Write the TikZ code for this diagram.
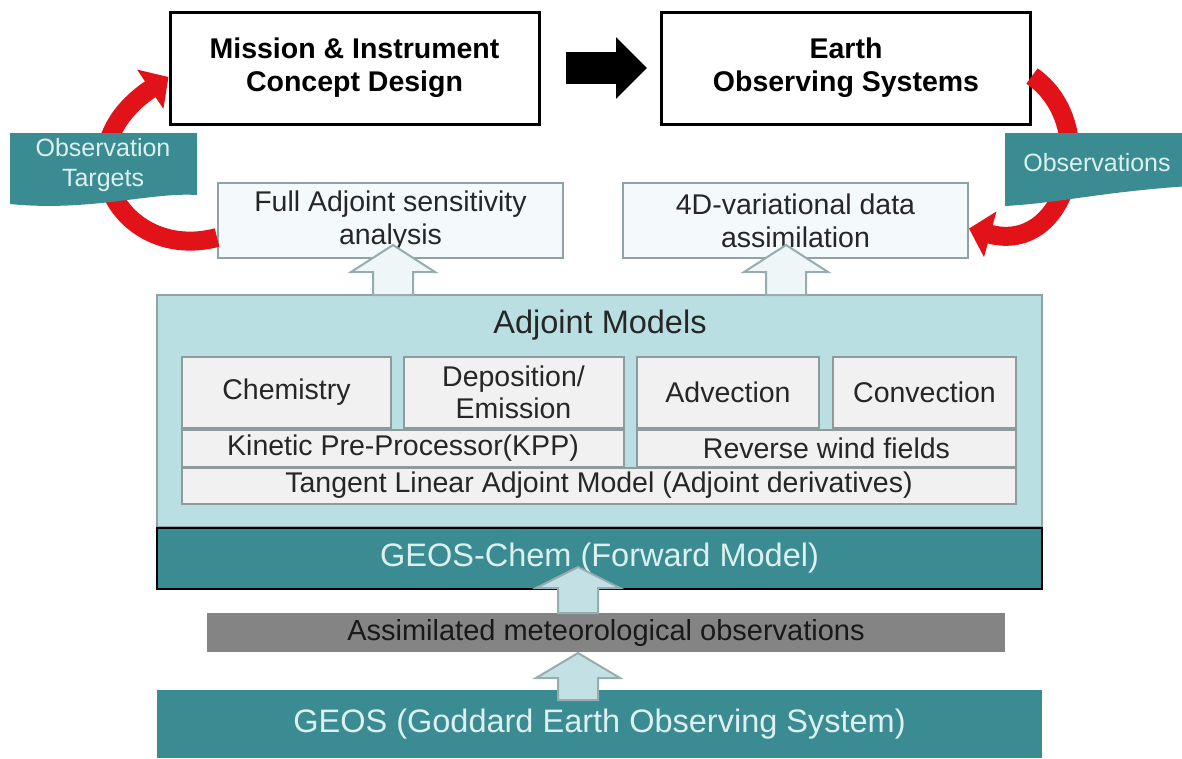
\documentclass[tikz,border=0pt]{standalone}
\usepackage{fontspec}
\setmainfont{Liberation Sans}
\usetikzlibrary{arrows.meta}

\definecolor{geosteal}{RGB}{58,140,146}
\definecolor{adjfill}{RGB}{185,223,226}
\definecolor{modfill}{RGB}{241,241,241}
\definecolor{modline}{RGB}{141,155,156}
\definecolor{resfill}{RGB}{244,249,251}
\definecolor{resline}{RGB}{142,163,166}
\definecolor{bandred}{RGB}{225,18,24}
\definecolor{paletext}{RGB}{220,240,240}
\definecolor{assimgray}{RGB}{132,132,132}
\definecolor{arrowlight}{RGB}{238,246,247}
\definecolor{arrowblue}{RGB}{195,225,228}
\definecolor{arrowline}{RGB}{150,172,175}

\tikzset{
  topbox/.style={draw=black, line width=3pt, fill=white, minimum width=369pt,
    minimum height=112pt, align=center, inner sep=0pt,
    font=\bfseries\fontsize{28.5}{33}\selectfont},
  resbox/.style={draw=resline, line width=2pt, fill=resfill, minimum width=345pt,
    minimum height=75pt, align=center, inner sep=0pt, text=black!85,
    font=\fontsize{28.5}{33}\selectfont},
  adjbox/.style={draw=resline, line width=2pt, fill=adjfill, minimum width=885pt,
    minimum height=232pt},
  modbox/.style={draw=modline, line width=2pt, fill=modfill, align=center,
    inner sep=0pt, text=black!85, font=\fontsize{28.5}{32}\selectfont},
  tealbar/.style={fill=geosteal, minimum width=885pt, inner sep=0pt,
    text=paletext, font=\fontsize{32.5}{36}\selectfont},
  banner/.style={fill=geosteal},
  bannertext/.style={align=center, text=paletext, inner sep=0pt,
    font=\fontsize{25}{30}\selectfont},
  redband/.style={draw=bandred, line width=19pt,
    -{Triangle[length=22pt,width=46pt]}},
  bigarrow/.style={draw=black, line width=32pt,
    -{Triangle[length=31pt,width=60pt]}},
  toparrow/.style={draw=arrowline, line width=2pt, fill=arrowlight},
  lowarrow/.style={draw=arrowline, line width=2pt, fill=arrowblue}
}

% block arrow pointing up: style, x, tip y, head y, foot y
\newcommand{\blockup}[5]{%
  \draw[#1] (#2-20,#5) -- (#2-20,#4) -- (#2-42,#4) -- (#2,#3)
    -- (#2+42,#4) -- (#2+20,#4) -- (#2+20,#5) -- cycle;}

\begin{document}
\begin{tikzpicture}[x=1pt,y=-1pt]
  \useasboundingbox (0,0) rectangle (1182,758);

  % design loop
  \node[topbox] (mission) at (354.5,68) {Mission \& Instrument\\Concept Design};
  \node[topbox] (earth) at (846,68) {Earth\\Observing Systems};
  \draw[bigarrow] ([xshift=25pt]mission.east) -- ([xshift=-13pt]earth.west);

  \node[resbox] (fa) at (390.5,220.5) {Full Adjoint sensitivity\\analysis};
  \node[resbox] (fourd) at (795.5,220.5) {4D-variational data\\assimilation};

  \draw[redband] ([yshift=-17pt]fa.west) .. controls +(-94,25) and +(-112,75)
    .. ([yshift=-9pt]mission.west);
  \draw[redband] ([yshift=-8pt]earth.east) .. controls +(70,49) and +(99,27)
    .. ([yshift=-8pt]fourd.east);

  \fill[banner] (10,133) -- (197,133) -- (197,195)
    .. controls (150,192) and (90,212) .. (10,204) -- cycle;
  \node[bannertext] (targets) at (103,165) {Observation\\Targets};
  \fill[banner] (1005,133) -- (1190,133) -- (1190,186)
    .. controls (1100,192) and (1060,203) .. (1005,206) -- cycle;
  \node[bannertext] (obs) at (1097,163) {Observations};

  % adjoint models
  \node[adjbox] (adj) at (599.5,411) {};
  \node[text=black!85, font=\fontsize{32.5}{36}\selectfont] (adjtitle) at (600,325) {Adjoint Models};
  \node[modbox, minimum width=209pt, minimum height=71pt] (chem) at (286.5,392.5) {Chemistry};
  \node[modbox, minimum width=220pt, minimum height=71pt] (dep) at (513.5,392.5) {Deposition/\\Emission};
  \node[modbox, minimum width=182pt, minimum height=71pt] (adv) at (728,392.5) {Advection};
  \node[modbox, minimum width=183pt, minimum height=71pt] (conv) at (924.5,392.5) {Convection};
  \node[modbox, minimum width=442pt, minimum height=37pt] (kpp) at (403,448) {Kinetic Pre-Processor(KPP)};
  \node[modbox, minimum width=379pt, minimum height=37pt] (wind) at (826.5,448) {Reverse wind fields};
  \node[modbox, minimum width=834pt, minimum height=36pt] (tlm) at (599,485.5) {Tangent Linear Adjoint Model (Adjoint derivatives)};

  \blockup{toparrow}{393}{245}{272}{295}
  \blockup{toparrow}{786}{245}{272}{295}

  % forward model
  \node[tealbar, draw=black, line width=2.5pt, minimum height=61pt] (chemfwd) at (599.5,558.5) {GEOS-Chem (Forward Model)};
  \node[fill=assimgray, minimum width=798pt, minimum height=39pt, inner sep=0pt,
    text=black!90, font=\fontsize{29}{33}\selectfont] (assim) at (606,632.5) {Assimilated meteorological observations};
  \blockup{lowarrow}{578}{567}{588}{613}
  \node[tealbar, minimum height=68pt] (geos) at (599.5,724) {GEOS (Goddard Earth Observing System)};
  \blockup{lowarrow}{578}{653}{678}{700}
\end{tikzpicture}
\end{document}
